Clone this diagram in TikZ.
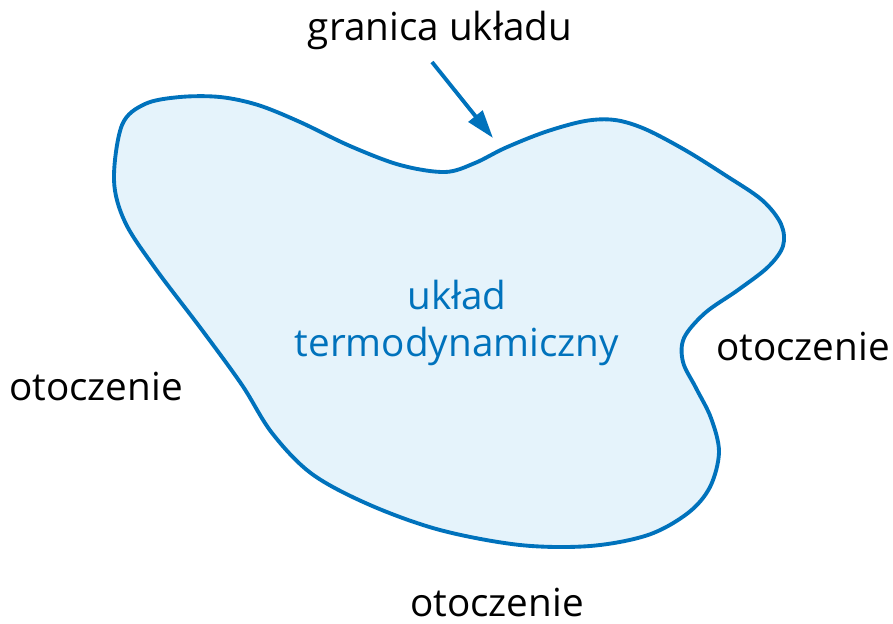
\documentclass[tikz,border=0pt]{standalone}
\usepackage{fontspec}
\setmainfont{Open Sans}
\usetikzlibrary{arrows.meta}
\definecolor{boundblue}{RGB}{0,114,188}
\definecolor{sysfill}{RGB}{229,243,251}
\begin{document}
\begin{tikzpicture}[x=0.02cm,y=-0.02cm]
        \tikzstyle{lbl}=[font=\fontsize{22}{26.5}\selectfont,inner sep=0pt,align=center]
        \useasboundingbox (0,0) rectangle (893,623);

        \draw[boundblue, line width=2.2pt, fill=sysfill] plot[smooth cycle, tension=0.55] coordinates {
            (122,125) (145,104) (180,97) (220,97) (258,105) (300,122) (350,146) (400,165)
            (445,172) (475,163) (505,148) (545,132) (585,121) (615,120) (645,129) (685,150)
            (725,175) (762,200) (781,224) (783,246) (768,267) (738,290) (705,313) (684,338)
            (683,362) (696,388) (711,418) (719,452) (710,487) (688,513) (648,535) (590,546)
            (520,545) (440,530) (370,505) (312,474) (272,433) (242,385) (202,330) (155,268)
            (125,222) (114,180)};

        \node[lbl, text=boundblue] (sys) at (457,323) {układ\\termodynamiczny};
        \node[lbl] (bnd) at (440,30) {granica układu};
        \node[lbl] (envl) at (96,386) {otoczenie};
        \node[lbl] (envr) at (803,346) {otoczenie};
        \node[lbl] (envb) at (497,602) {otoczenie};

        \coordinate (tail) at (432,62);
        \coordinate (tip) at (493,138);
        \draw[boundblue, line width=2.2pt, -{Triangle[length=16pt,width=10pt]}] (tail) -- (tip);
\end{tikzpicture}
\end{document}
